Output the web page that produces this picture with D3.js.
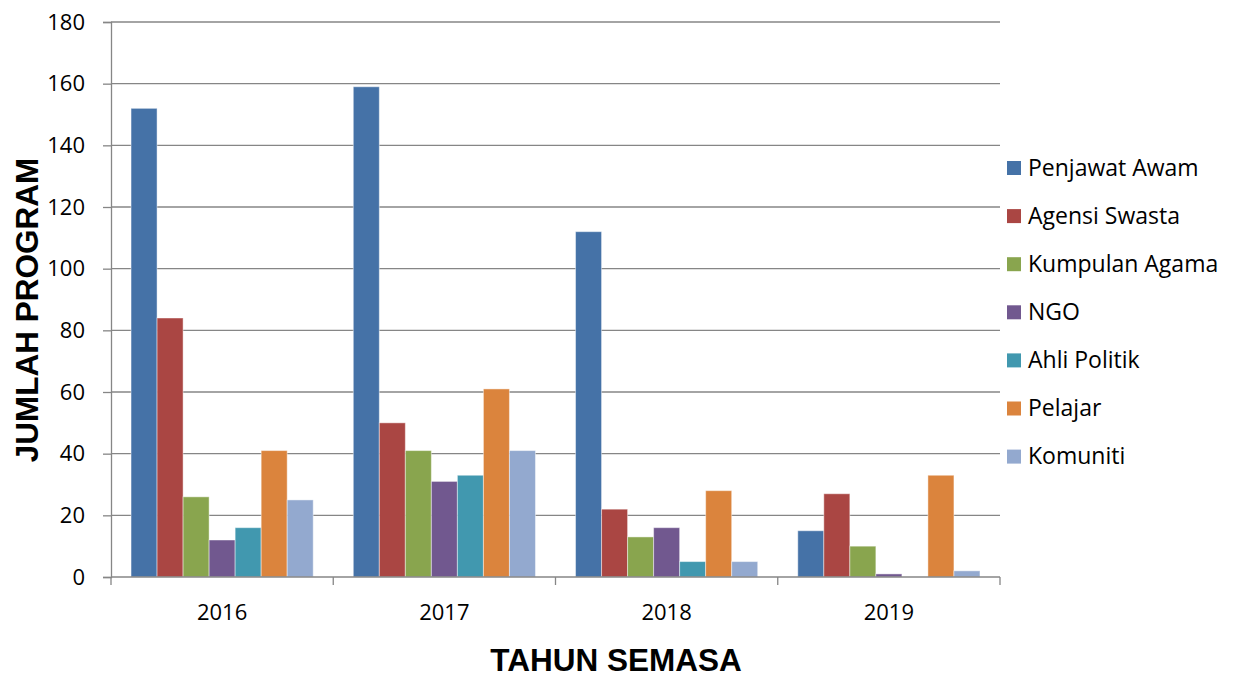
<!DOCTYPE html>
<meta charset="utf-8">
<style>
  body { margin: 0; background: #fff; }
  text { fill: #000; }
  .tick-label { font: 22px "Open Sans", sans-serif; }
  .legend-label { font: 23px "Open Sans", sans-serif; }
  .axis-title { font: bold 31.5px "Liberation Sans", Arial, sans-serif; }
</style>
<body>
<svg id="chart" width="1233" height="678"></svg>
<script src="https://cdn.jsdelivr.net/npm/d3@7"></script>
<script>
  // data
  const years = ['2016', '2017', '2018', '2019'];
  const groups = ['Penjawat Awam', 'Agensi Swasta', 'Kumpulan Agama', 'NGO', 'Ahli Politik', 'Pelajar', 'Komuniti'];
  const penjawatAwam = [152, 159, 112, 15];
  const agensiSwasta = [84, 50, 22, 27];
  const kumpulanAgama = [26, 41, 13, 10];
  const ngo = [12, 31, 16, 1];
  const ahliPolitik = [16, 33, 5, 0];
  const pelajar = [41, 61, 28, 33];
  const komuniti = [25, 41, 5, 2];
  const yTicks = [0, 20, 40, 60, 80, 100, 120, 140, 160, 180];
  const colors = ['#4572A7', '#AA4643', '#89A54E', '#71588F', '#4198AF', '#DB843D', '#93A9CF'];

  const seriesValues = [penjawatAwam, agensiSwasta, kumpulanAgama, ngo, ahliPolitik, pelajar, komuniti];

  const svg = d3.select('#chart');
  const plotLeft = 111, plotRight = 1000, plotTop = 22, plotBottom = 577;

  const x0 = d3.scaleBand().domain(years).range([plotLeft, plotRight]).padding(0);
  const x1 = d3.scaleBand().domain(groups).range([0, x0.bandwidth()])
    .paddingInner(0).paddingOuter(0.77);
  const y = d3.scaleLinear().domain([0, 180]).range([plotBottom, plotTop]);
  const color = d3.scaleOrdinal().domain(groups).range(colors);

  // gridlines
  svg.append('g')
    .selectAll('line')
    .data(yTicks.slice(1))
    .enter().append('line')
    .attr('x1', plotLeft).attr('x2', plotRight)
    .attr('y1', d => y(d)).attr('y2', d => y(d))
    .attr('stroke', '#868686').attr('stroke-width', 1.3);

  // y axis
  const yAxis = svg.append('g')
    .attr('transform', `translate(${plotLeft},0)`)
    .call(d3.axisLeft(y).tickValues(yTicks).tickSize(8).tickPadding(18));
  yAxis.select('.domain').attr('stroke', '#868686').attr('stroke-width', 1.3);
  yAxis.selectAll('.tick line').attr('stroke', '#868686').attr('stroke-width', 1.3);
  yAxis.attr('font-family', null).attr('font-size', null);
  yAxis.selectAll('.tick text').attr('class', 'tick-label');

  // bars
  svg.append('g')
    .selectAll('g')
    .data(years)
    .enter().append('g')
    .attr('transform', d => `translate(${x0(d)},0)`)
    .selectAll('rect')
    .data((yr, i) => groups.map((g, j) => ({ key: g, value: seriesValues[j][i] })))
    .enter().append('rect')
    .attr('x', d => x1(d.key))
    .attr('width', x1.bandwidth())
    .attr('y', d => y(d.value))
    .attr('height', d => y(0) - y(d.value))
    .attr('fill', d => color(d.key))
    .attr('stroke', 'rgba(255,255,255,0.45)')
    .attr('stroke-width', d => d.value > 0 ? 1 : 0);

  // x axis
  const xAxis = svg.append('g')
    .attr('transform', `translate(0,${plotBottom})`);
  xAxis.append('line')
    .attr('x1', plotLeft).attr('x2', plotRight)
    .attr('stroke', '#868686').attr('stroke-width', 1.3);
  xAxis.selectAll('line.sep')
    .data(years.map(d => x0(d)).concat([plotRight]))
    .enter().append('line')
    .attr('class', 'sep')
    .attr('x1', d => d).attr('x2', d => d)
    .attr('y1', 0).attr('y2', 8)
    .attr('stroke', '#868686').attr('stroke-width', 1.3);
  xAxis.selectAll('text')
    .data(years)
    .enter().append('text')
    .attr('class', 'tick-label')
    .attr('x', d => x0(d) + x0.bandwidth() / 2)
    .attr('y', 43)
    .attr('text-anchor', 'middle')
    .text(d => d);

  // axis titles
  svg.append('text')
    .attr('class', 'axis-title')
    .attr('x', 616).attr('y', 671)
    .attr('text-anchor', 'middle')
    .text('TAHUN SEMASA');
  svg.append('text')
    .attr('class', 'axis-title')
    .attr('transform', 'translate(38,310) rotate(-90)')
    .attr('text-anchor', 'middle')
    .text('JUMLAH PROGRAM');

  // legend
  const legend = svg.append('g')
    .selectAll('g')
    .data(groups)
    .enter().append('g')
    .attr('transform', (d, i) => `translate(1007,${161 + i * 48.1})`);
  legend.append('rect')
    .attr('width', 14).attr('height', 14)
    .attr('fill', d => color(d));
  legend.append('text')
    .attr('class', 'legend-label')
    .attr('x', 21).attr('y', 14.5)
    .text(d => d);
</script>
</body>
